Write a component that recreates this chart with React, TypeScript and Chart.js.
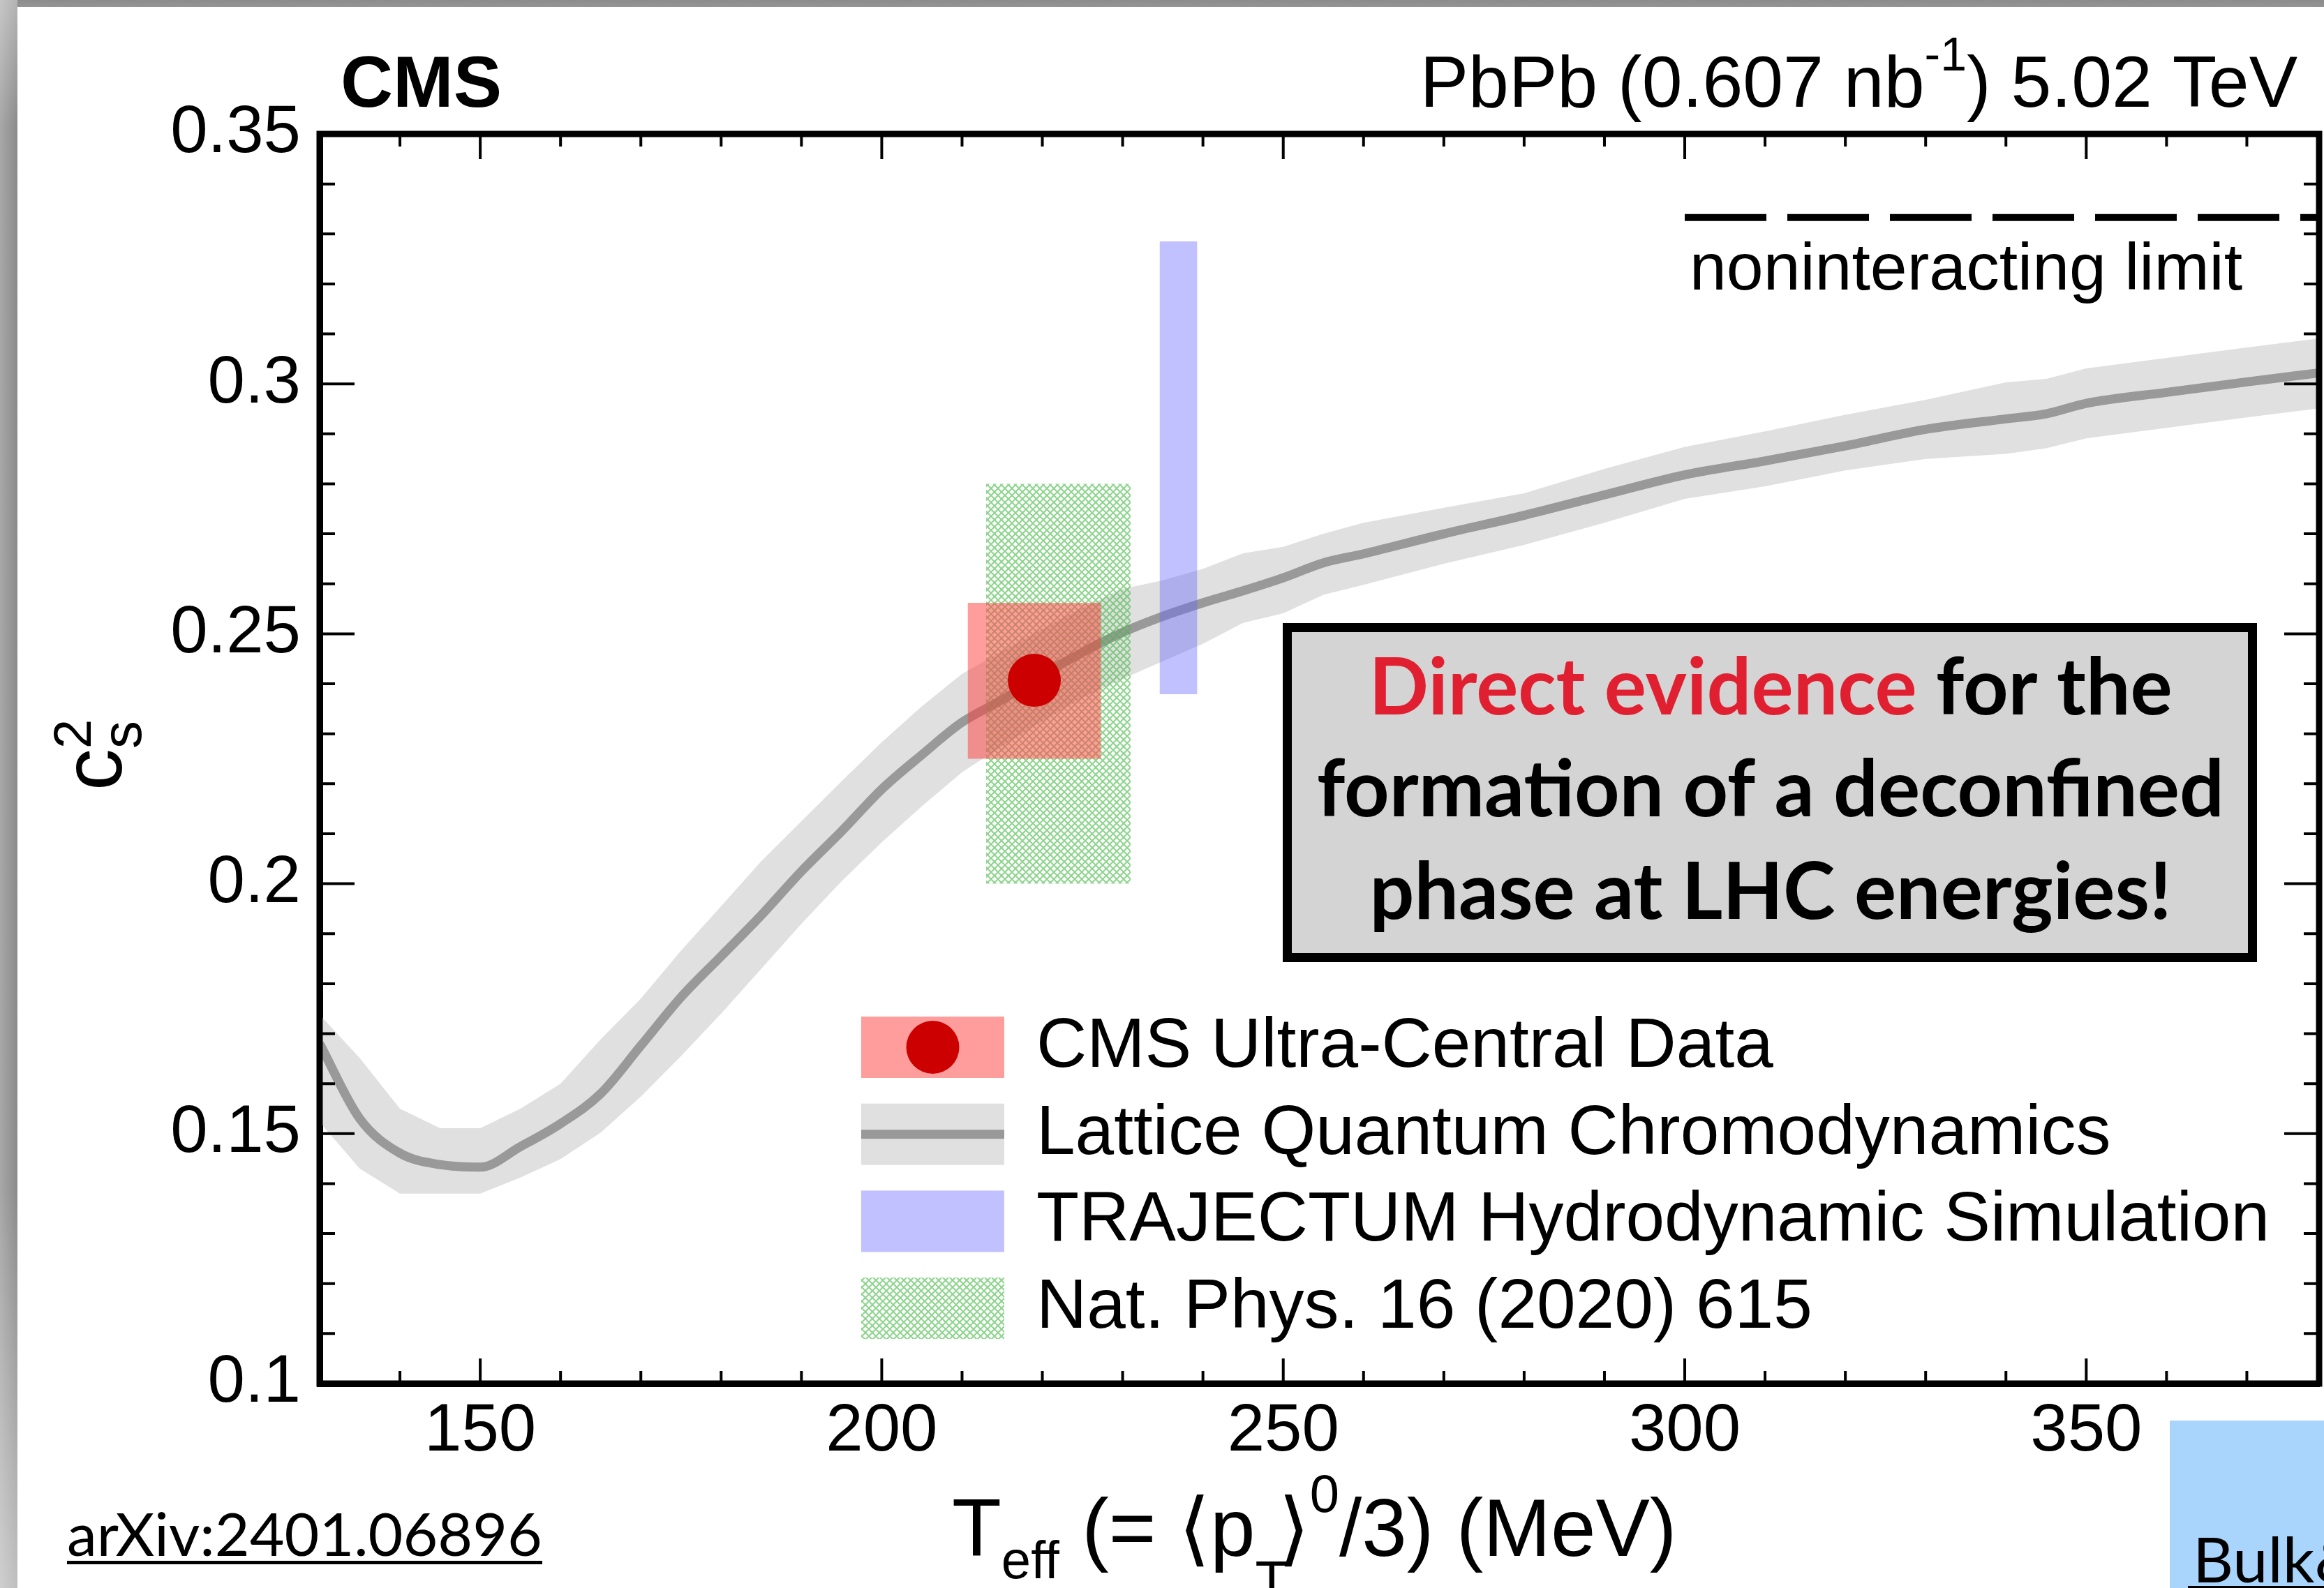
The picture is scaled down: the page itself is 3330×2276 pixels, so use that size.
import React, { useEffect, useRef } from "react";
import { Chart, registerables } from "chart.js";

Chart.register(...registerables);

// ---------------- data ----------------
const latticeT = [130, 135, 140, 145, 150, 155, 160, 165, 170, 175, 180, 185, 190, 195, 200, 205, 210, 215, 220, 225, 230, 235, 240, 245, 250, 255, 260, 270, 280, 290, 300, 310, 320, 330, 340, 345, 350, 360, 370, 380];
const latticeC = [0.168, 0.153, 0.1461, 0.1438, 0.1433, 0.1474, 0.152, 0.158, 0.1676, 0.1773, 0.1855, 0.1937, 0.2025, 0.2105, 0.2189, 0.2258, 0.2323, 0.2368, 0.2418, 0.2463, 0.2503, 0.2535, 0.2562, 0.2586, 0.2612, 0.2642, 0.266, 0.27, 0.2737, 0.2778, 0.2818, 0.2846, 0.2876, 0.2909, 0.293, 0.294, 0.2961, 0.2983, 0.3004, 0.3024];
const latticeLo = [0.1523, 0.143, 0.138, 0.138, 0.138, 0.1412, 0.1449, 0.1502, 0.1574, 0.1655, 0.174, 0.183, 0.192, 0.2005, 0.2083, 0.2155, 0.2223, 0.2275, 0.2325, 0.2372, 0.241, 0.2445, 0.248, 0.2522, 0.2541, 0.2578, 0.2598, 0.264, 0.2678, 0.2722, 0.277, 0.2795, 0.2827, 0.285, 0.286, 0.2871, 0.2891, 0.2912, 0.2933, 0.2953];
const latticeHi = [0.1738, 0.1651, 0.155, 0.1511, 0.1511, 0.155, 0.16, 0.1689, 0.177, 0.1866, 0.1955, 0.2045, 0.2125, 0.2205, 0.2283, 0.2355, 0.242, 0.2465, 0.251, 0.2552, 0.259, 0.2607, 0.263, 0.2661, 0.2674, 0.27, 0.2722, 0.2752, 0.2781, 0.283, 0.2874, 0.2905, 0.2938, 0.2968, 0.3003, 0.301, 0.3031, 0.3052, 0.3073, 0.3093];

const cmsT = [219.0];
const cmsC = [0.2407];
const cmsTRange = [210.7, 227.3];
const cmsCRange = [0.225, 0.2562];

const trajT = [234.6, 239.3];
const trajC = [0.2379, 0.3285];

const natPhysT = [213, 231];
const natPhysC = [0.2, 0.28];

const freeLimitT = [300, 380];
const freeLimitC = [0.3333, 0.3333];

const xRange = [130, 379];
const yRange = [0.1, 0.35];
const xMajorTicks = [150, 200, 250, 300, 350];
const xTickLabels = ["150", "200", "250", "300", "350"];
const yMajorTicks = [0.1, 0.15, 0.2, 0.25, 0.3, 0.35];
const yTickLabels = ["0.1", "0.15", "0.2", "0.25", "0.3", "0.35"];

const legendLabels = [
  "CMS Ultra-Central Data",
  "Lattice Quantum Chromodynamics",
  "TRAJECTUM Hydrodynamic Simulation",
  "Nat. Phys. 16 (2020) 615",
];
const boxLines = ["formation of a deconfined", "phase at LHC energies!"];

// ---------------- styles ----------------
const HELV = '"Liberation Sans", Arial, Helvetica, "DejaVu Sans", sans-serif';
const F = (size: number, weight = "normal", fam = HELV) => `${weight} ${size}px ${fam}`;
const cmsBoxColor = "rgba(255, 60, 60, 0.5)";
const cmsDotColor = "#cc0000";
const bandColor = "#e0e0e0";
const lineColor = "#999999";
const trajColor = "rgba(100, 100, 255, 0.4)";

function makeHatch(): CanvasPattern | string {
  const pc = document.createElement("canvas");
  pc.width = 10;
  pc.height = 10;
  const p = pc.getContext("2d");
  if (!p) return "rgba(80,190,80,0.5)";
  p.strokeStyle = "rgba(70, 185, 70, 0.62)";
  p.lineWidth = 2;
  p.beginPath();
  p.moveTo(0, 0);
  p.lineTo(10, 10);
  p.moveTo(10, 0);
  p.lineTo(0, 10);
  p.stroke();
  const main = document.createElement("canvas").getContext("2d");
  return (main && main.createPattern(pc, "repeat")) || "rgba(80,190,80,0.5)";
}

export default function App() {
  const ref = useRef<HTMLCanvasElement | null>(null);

  useEffect(() => {
    document.body.style.margin = "0";
    document.body.style.overflow = "hidden";
    const canvas = ref.current;
    if (!canvas) return;
    const hatch = makeHatch();

    const decor = {
      id: "decor",
      beforeDraw(chart: any) {
        const { ctx, width, height } = chart;
        ctx.save();
        ctx.fillStyle = "#ffffff";
        ctx.fillRect(0, 0, width, height);
        // slide shadow edges
        let g = ctx.createLinearGradient(0, 0, 0, 10);
        g.addColorStop(0, "#8c8c8c");
        g.addColorStop(1, "#959595");
        ctx.fillStyle = g;
        ctx.fillRect(0, 0, width, 10);
        g = ctx.createLinearGradient(0, 0, 25, 0);
        g.addColorStop(0, "#a8a8a8");
        g.addColorStop(1, "#8a8a8a");
        ctx.fillStyle = g;
        ctx.fillRect(0, 0, 25, height);
        g = ctx.createLinearGradient(0, 0, 0, height);
        g.addColorStop(0, "rgba(255,255,255,0.35)");
        g.addColorStop(0.08, "rgba(255,255,255,0)");
        g.addColorStop(0.75, "rgba(255,255,255,0)");
        g.addColorStop(1, "rgba(255,255,255,0.45)");
        ctx.fillStyle = g;
        ctx.fillRect(0, 0, 25, height);
        ctx.restore();
      },
      afterDraw(chart: any) {
        const { ctx, chartArea: a, scales } = chart;
        const xs = scales.x;
        const ys = scales.y;
        ctx.save();
        // inward ticks on all four sides
        ctx.strokeStyle = "#000";
        ctx.lineWidth = 4;
        ctx.beginPath();
        for (const t of xs.ticks) {
          const v = t.value;
          if (Math.abs(v - Math.round(v / 10) * 10) > 1e-6) continue;
          const major = xMajorTicks.includes(Math.round(v));
          const len = major ? 36 : 18;
          const px = xs.getPixelForValue(v);
          ctx.moveTo(px, a.bottom);
          ctx.lineTo(px, a.bottom - len);
          ctx.moveTo(px, a.top);
          ctx.lineTo(px, a.top + len);
        }
        for (const t of ys.ticks) {
          const v = t.value;
          if (Math.abs(v * 100 - Math.round(v * 100)) > 1e-6) continue;
          const major = yMajorTicks.some((m) => Math.abs(m - v) < 1e-9);
          const len = major ? 50 : 22;
          const py = ys.getPixelForValue(v);
          ctx.moveTo(a.left, py);
          ctx.lineTo(a.left + len, py);
          ctx.moveTo(a.right, py);
          ctx.lineTo(a.right - len, py);
        }
        ctx.stroke();
        ctx.lineWidth = 9;
        ctx.strokeRect(a.left, a.top, a.right - a.left, a.bottom - a.top);

        ctx.fillStyle = "#000";
        ctx.textBaseline = "alphabetic";
        ctx.textAlign = "left";

        // header
        ctx.font = F(104, "bold");
        ctx.fillText("CMS", 488, 153);
        const h1 = "PbPb (0.607 nb";
        const h2 = "-1";
        const h3 = ") 5.02 TeV";
        ctx.font = F(104);
        const w1 = ctx.measureText(h1).width;
        const w3 = ctx.measureText(h3).width;
        ctx.font = F(68);
        const w2 = ctx.measureText(h2).width;
        let hx = 3292 - (w1 + w2 + w3);
        ctx.font = F(104);
        ctx.fillText(h1, hx, 153);
        hx += w1;
        ctx.font = F(68);
        ctx.fillText(h2, hx, 101);
        hx += w2;
        ctx.font = F(104);
        ctx.fillText(h3, hx, 153);

        // y title c_s^2
        ctx.save();
        ctx.translate(174, 1133);
        ctx.rotate(-Math.PI / 2);
        ctx.font = F(120);
        ctx.fillText("c", 0, 0);
        const cw = ctx.measureText("c").width;
        ctx.font = F(76);
        ctx.fillText("2", cw, -44);
        ctx.font = F(80);
        ctx.fillText("s", cw, 28);
        ctx.restore();

        // x title
        const base = 2230;
        let x = 1364;
        const seg = (t: string, size: number, dy: number) => {
          ctx.font = F(size);
          ctx.fillText(t, x, base + dy);
          x += ctx.measureText(t).width;
        };
        seg("T", 116, 0);
        seg("eff", 76, 32);
        seg(" (= \u27E8p", 116, 0);
        ctx.font = F(78);
        ctx.fillText("T", x, base + 62);
        x += 33;
        seg("\u27E9", 116, 0);
        seg("0", 76, -63);
        seg("/3) (MeV)", 116, 0);

        // noninteracting limit label
        ctx.font = F(95);
        ctx.fillText("noninteracting limit", 2421, 415);

        // legend
        const lx = 1234;
        const lw = 205;
        const lh = 88;
        const ly0 = 1457;
        const step = 124.7;
        legendLabels.forEach((lab, i) => {
          const y = ly0 + i * step;
          if (i === 0) {
            ctx.fillStyle = cmsBoxColor;
            ctx.fillRect(lx, y, lw, lh);
            ctx.fillStyle = cmsDotColor;
            ctx.beginPath();
            ctx.arc(lx + lw / 2, y + lh / 2, 38, 0, Math.PI * 2);
            ctx.fill();
          } else if (i === 1) {
            ctx.fillStyle = bandColor;
            ctx.fillRect(lx, y, lw, lh);
            ctx.fillStyle = lineColor;
            ctx.fillRect(lx, y + lh / 2 - 6.5, lw, 13);
          } else if (i === 2) {
            ctx.fillStyle = trajColor;
            ctx.fillRect(lx, y, lw, lh);
          } else {
            ctx.fillStyle = hatch;
            ctx.fillRect(lx, y, lw, lh);
          }
          ctx.fillStyle = "#000";
          ctx.font = F(100);
          ctx.fillText(lab, 1485, y + 72);
        });

        // message box
        ctx.fillStyle = "#d4d4d4";
        ctx.fillRect(1838, 893, 1396, 486);
        ctx.strokeStyle = "#000";
        ctx.lineWidth = 13;
        ctx.strokeRect(1844.5, 899.5, 1383, 473);
        ctx.font = "700 100px Lato, \"Noto Sans\", sans-serif";
        const wref = ctx.measureText(boxLines[0]).width;
        const fs = (100 * 1300) / wref;
        const bf = `700 ${fs}px Lato, "Noto Sans", sans-serif`;
        ctx.font = bf;
        const cx = 2537;
        const r1 = "Direct evidence";
        const r2 = " for the";
        const wr1 = ctx.measureText(r1).width;
        const wr2 = ctx.measureText(r2).width;
        let bx = cx - (wr1 + wr2) / 2;
        ctx.fillStyle = "#e02030";
        ctx.fillText(r1, bx, 1024);
        bx += wr1;
        ctx.fillStyle = "#000";
        ctx.fillText(r2, bx, 1024);
        ctx.textAlign = "center";
        ctx.fillText(boxLines[0], cx, 1170);
        ctx.fillText(boxLines[1], cx, 1317);
        ctx.textAlign = "left";

        // arXiv reference
        ctx.font = "normal 90px Lato, sans-serif";
        const arx = "arXiv:2401.06896";
        const aw = ctx.measureText(arx).width;
        const afs = (90 * 681) / aw;
        ctx.font = `normal ${afs}px Lato, sans-serif`;
        ctx.fillText(arx, 96, 2230);
        ctx.fillRect(96, 2237, 681, 5);

        // bottom-right link box
        ctx.fillStyle = "#a9d5fc";
        ctx.fillRect(3109, 2036, 260, 260);
        ctx.fillStyle = "#000";
        ctx.font = "normal 90px Lato, sans-serif";
        ctx.fillText("Bulk&", 3142, 2268);
        ctx.fillRect(3135, 2273, 220, 4);

        ctx.restore();
      },
    };

    const pts = (xsArr: number[], ysArr: number[]) => xsArr.map((v, i) => ({ x: v, y: ysArr[i] }));

    const chart = new Chart(canvas, {
      type: "line",
      data: {
        datasets: [
          {
            label: "CMS point",
            type: "scatter",
            data: pts(cmsT, cmsC),
            pointRadius: 38,
            pointBackgroundColor: cmsDotColor,
            pointBorderWidth: 0,
            pointBorderColor: "transparent",
            order: 1,
            clip: 0,
          } as any,
          {
            label: "TRAJECTUM",
            data: pts(trajT, [trajC[1], trajC[1]]),
            fill: { value: trajC[0] },
            backgroundColor: trajColor,
            borderColor: "transparent",
            borderWidth: 0,
            pointRadius: 0,
            order: 2,
            clip: 0,
          } as any,
          {
            label: "CMS box",
            data: pts(cmsTRange, [cmsCRange[1], cmsCRange[1]]),
            fill: { value: cmsCRange[0] },
            backgroundColor: cmsBoxColor,
            borderColor: "transparent",
            borderWidth: 0,
            pointRadius: 0,
            order: 3,
            clip: 0,
          } as any,
          {
            label: "Nat. Phys.",
            data: pts(natPhysT, [natPhysC[1], natPhysC[1]]),
            fill: { value: natPhysC[0] },
            backgroundColor: hatch,
            borderColor: "transparent",
            borderWidth: 0,
            pointRadius: 0,
            order: 4,
            clip: 0,
          } as any,
          {
            label: "Lattice QCD",
            data: pts(latticeT, latticeC),
            borderColor: lineColor,
            borderWidth: 13,
            pointRadius: 0,
            fill: false,
            cubicInterpolationMode: "monotone",
            order: 5,
          } as any,
          {
            label: "Lattice lo",
            data: pts(latticeT, latticeLo),
            borderColor: "transparent",
            borderWidth: 0,
            pointRadius: 0,
            fill: false,
            order: 7,
          } as any,
          {
            label: "Lattice hi",
            data: pts(latticeT, latticeHi),
            borderColor: "transparent",
            borderWidth: 0,
            pointRadius: 0,
            fill: "-1",
            backgroundColor: bandColor,
            order: 6,
          } as any,
          {
            label: "noninteracting limit",
            data: pts(freeLimitT, freeLimitC),
            borderColor: "#000",
            borderWidth: 10,
            borderDash: [117, 30],
            borderCapStyle: "butt",
            pointRadius: 0,
            fill: false,
            order: 5,
          } as any,
        ],
      },
      options: {
        responsive: false,
        maintainAspectRatio: false,
        devicePixelRatio: 1,
        animation: false,
        events: [],
        layout: { autoPadding: false, padding: { top: 192, right: 7, left: 0, bottom: 0 } },
        plugins: {
          legend: { display: false },
          tooltip: { enabled: false },
          title: { display: false },
        },
        scales: {
          x: {
            type: "linear",
            min: xRange[0],
            max: xRange[1],
            position: "bottom",
            z: 1,
            afterFit: (s: any) => {
              s.height = 293;
              s.paddingLeft = 0;
              s.paddingRight = 0;
            },
            grid: { drawOnChartArea: false, drawTicks: false },
            border: { display: true, width: 9, color: "#000" },
            ticks: {
              stepSize: 10,
              autoSkip: false,
              includeBounds: false,
              maxRotation: 0,
              minRotation: 0,
              padding: 12,
              color: "#000",
              font: { family: HELV, size: 96 },
              callback: (v: any) => {
                const i = xMajorTicks.findIndex((m) => Math.abs(m - Number(v)) < 1e-6);
                return i >= 0 ? xTickLabels[i] : "";
              },
            },
          },
          y: {
            type: "linear",
            min: yRange[0],
            max: yRange[1],
            position: "left",
            z: 1,
            afterFit: (s: any) => {
              s.width = 458;
              s.paddingTop = 0;
              s.paddingBottom = 0;
            },
            grid: { drawOnChartArea: false, drawTicks: false },
            border: { display: true, width: 9, color: "#000" },
            ticks: {
              stepSize: 0.01,
              autoSkip: false,
              includeBounds: false,
              padding: 27,
              color: "#000",
              font: { family: HELV, size: 96 },
              callback: (v: any) => {
                const i = yMajorTicks.findIndex((m) => Math.abs(m - Number(v)) < 1e-9);
                return i >= 0 ? yTickLabels[i] : "";
              },
            },
          },
        },
      } as any,
      plugins: [decor],
    });

    return () => {
      chart.destroy();
    };
  }, []);

  return (
    <div style={{ width: 3330, height: 2276, position: "relative", overflow: "hidden" }}>
      <canvas ref={ref} width={3330} height={2276} style={{ display: "block", width: 3330, height: 2276 }} />
    </div>
  );
}
